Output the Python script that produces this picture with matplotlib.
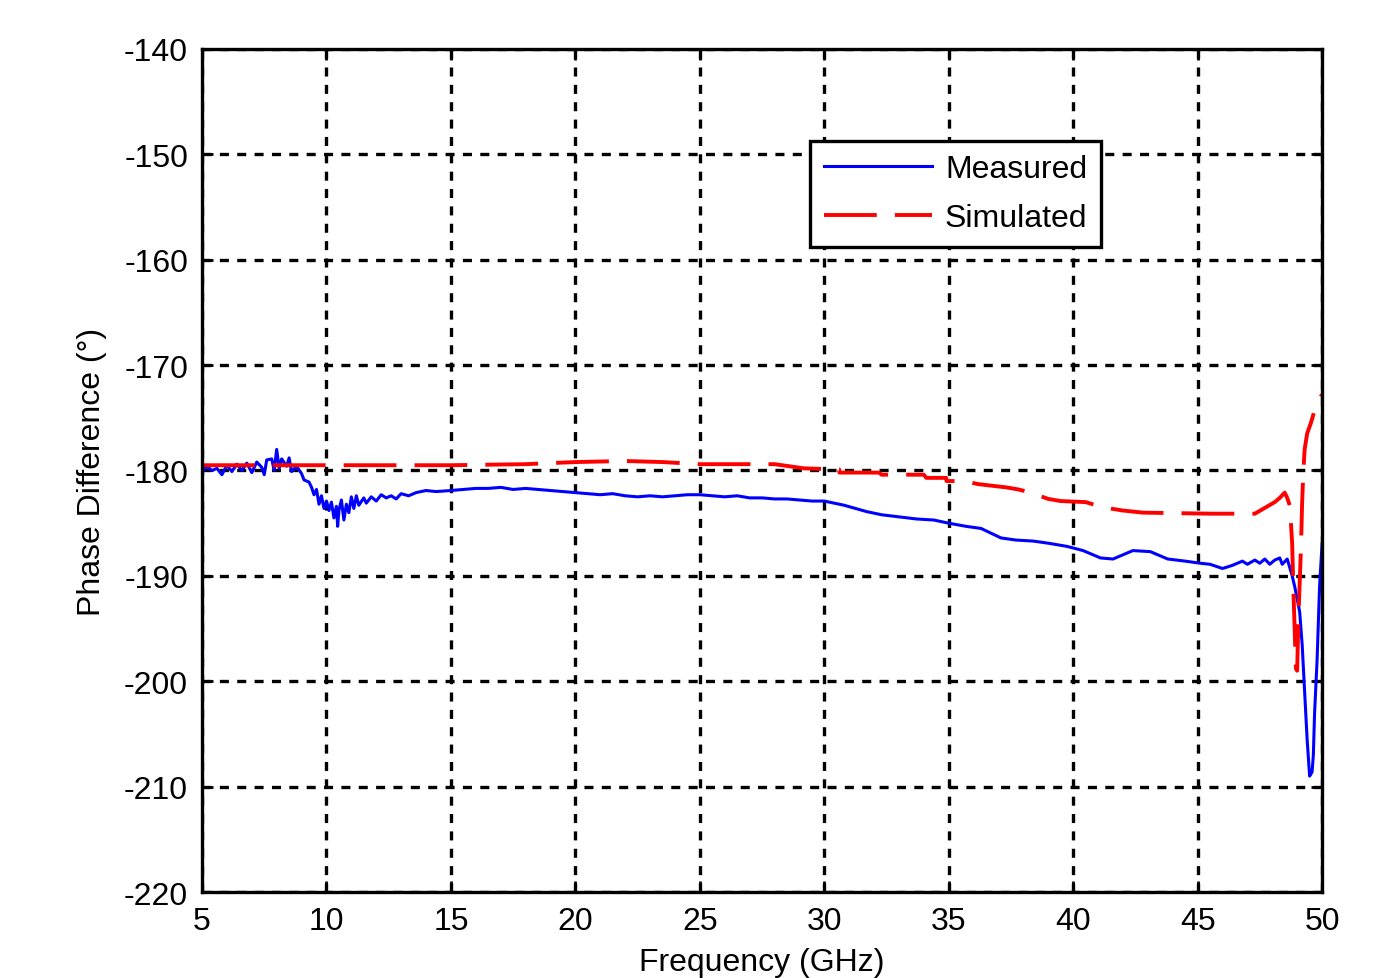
import matplotlib
matplotlib.use("Agg")
import matplotlib.pyplot as plt

plt.rcParams['font.family'] = ['Liberation Sans', 'DejaVu Sans']
plt.rcParams['lines.scale_dashes'] = False
plt.rcParams['axes.unicode_minus'] = False

# measured phase difference
meas_f = [5.0, 5.2, 5.4, 5.6, 5.8, 6.0, 6.2, 6.4, 6.6, 6.8, 7.0, 7.2, 7.4, 7.5, 7.6,
          7.8, 7.9, 8.0, 8.1, 8.2, 8.4, 8.5, 8.6, 8.8, 9.0, 9.1, 9.3, 9.4, 9.5, 9.6,
          9.7, 9.8, 9.9, 10.0, 10.1, 10.2, 10.3, 10.4, 10.45, 10.5, 10.6, 10.7, 10.8,
          10.9, 11.0, 11.1, 11.2, 11.3, 11.5, 11.6, 11.8, 12.0, 12.2, 12.4, 12.6,
          12.8, 13.0, 13.3, 13.6, 14.0, 14.4, 15.0, 15.5, 16.0, 16.5, 17.0, 17.5,
          18.0, 18.5, 19.0, 19.5, 20.0, 20.5, 21.0, 21.5, 22.0, 22.5, 23.0, 23.5,
          24.0, 24.5, 25.0, 25.5, 26.0, 26.5, 27.0, 27.5, 28.0, 28.5, 29.0, 29.5,
          30.0, 30.8, 31.7, 32.3, 33.0, 33.7, 34.4, 35.0, 35.7, 36.3, 37.1, 37.7,
          38.4, 39.0, 39.75, 40.4, 41.1, 41.6, 42.0, 42.4, 43.1, 43.8, 44.5, 45.1,
          45.5, 46.0, 46.4, 46.8, 47.0, 47.3, 47.5, 47.7, 47.9, 48.1, 48.3, 48.4,
          48.6, 48.8, 48.9, 49.0, 49.1, 49.2, 49.3, 49.4, 49.5, 49.6, 49.65, 49.7,
          49.8, 49.9, 50.0]
meas_v = [-180.2, -179.6, -180.0, -179.8, -180.4, -179.5, -180.1, -179.4, -180.0,
          -179.3, -180.2, -179.2, -179.7, -180.4, -179.0, -178.9, -180.0, -178.0,
          -179.8, -178.9, -179.6, -178.8, -180.1, -179.6, -180.3, -180.9, -181.1,
          -181.6, -182.3, -181.8, -183.2, -182.4, -183.6, -182.9, -183.8, -183.0,
          -184.5, -183.4, -185.3, -183.8, -182.8, -184.7, -183.2, -184.0, -182.5,
          -183.6, -182.4, -183.3, -182.6, -183.1, -182.5, -182.9, -182.3, -182.6,
          -182.4, -182.7, -182.2, -182.4, -182.1, -181.9, -182.0, -181.9, -181.8,
          -181.7, -181.7, -181.6, -181.8, -181.7, -181.8, -181.9, -182.0, -182.1,
          -182.2, -182.3, -182.2, -182.4, -182.5, -182.4, -182.5, -182.4, -182.3,
          -182.3, -182.4, -182.5, -182.4, -182.6, -182.6, -182.7, -182.7, -182.8,
          -182.9, -182.9, -183.3, -183.9, -184.2, -184.4, -184.6, -184.7, -185.0,
          -185.3, -185.5, -186.4, -186.6, -186.7, -186.9, -187.2, -187.6, -188.3,
          -188.4, -188.0, -187.6, -187.7, -188.4, -188.6, -188.8, -188.9, -189.3,
          -189.0, -188.6, -188.9, -188.5, -188.8, -188.4, -188.9, -188.5, -188.3,
          -188.9, -188.4, -190.0, -191.0, -192.2, -193.4, -196.5, -201.0, -205.5,
          -209.0, -208.6, -207.0, -203.0, -198.0, -191.0, -187.0]

# simulated phase difference
sim_f = [5.0, 8.0, 10.0, 15.0, 18.0, 20.0, 22.0, 23.5, 25.0, 28.0, 29.2, 30.6,
         30.61, 32.2, 32.3, 34.0, 34.1, 34.9, 34.91, 35.6, 36.2, 37.3, 37.8, 38.3,
         39.0, 39.5, 40.5, 41.2, 42.0, 42.8, 45.6, 47.3, 48.1, 48.3, 48.5, 48.6,
         48.7, 48.75, 48.8, 48.85, 48.95, 49.0, 49.05, 49.15, 49.2, 49.25, 49.3,
         49.4, 49.55, 49.7, 49.85, 50.0]
sim_v = [-179.5, -179.5, -179.5, -179.5, -179.4, -179.2, -179.1, -179.2, -179.4,
         -179.4, -179.8, -179.9, -180.2, -180.2, -180.4, -180.4, -180.7, -180.7,
         -181.0, -181.0, -181.3, -181.6, -181.8, -182.1, -182.7, -182.9, -183.0,
         -183.5, -183.8, -184.0, -184.1, -184.1, -183.0, -182.6, -182.1, -182.6,
         -183.3, -185.0, -187.0, -191.5, -198.8, -199.0, -194.0, -187.5, -183.0,
         -180.0, -178.0, -176.5, -175.5, -174.3, -173.3, -172.8]

xticks = [5, 10, 15, 20, 25, 30, 35, 40, 45, 50]
yticks = [-140, -150, -160, -170, -180, -190, -200, -210, -220]

fig = plt.figure(figsize=(13.77, 9.79), dpi=100)
ax = fig.add_axes([0.1467, 0.0878, 0.8134, 0.8612])

ax.plot(meas_f, meas_v, color='#0000ff', lw=2.2, label='Measured')
ax.plot(sim_f, sim_v, color='#ff0000', lw=2.8, linestyle=(0, (38, 13)),
        label='Simulated')

ax.set_xlim(5, 50)
ax.set_ylim(-220, -140)
ax.set_xticks(xticks)
ax.set_yticks(yticks)
ax.grid(True, color='black', lw=2.4, linestyle=(0, (6.5, 6)))
ax.tick_params(direction='in', length=8, width=2, labelsize=23, pad=10,
               top=True, right=True)
for s in ax.spines.values():
    s.set_linewidth(2.4)

ax.set_xlabel('Frequency (GHz)', fontsize=23, labelpad=8)
ax.set_ylabel('Phase Difference (°)', fontsize=23, labelpad=12)

leg = ax.legend(loc='upper left', bbox_to_anchor=(0.543, 0.891), fontsize=23,
                frameon=True, fancybox=False, framealpha=1, handlelength=3.4,
                handletextpad=0.4, borderpad=0.42, labelspacing=0.6,
                borderaxespad=0)
leg.get_frame().set_edgecolor('black')
leg.get_frame().set_linewidth(2.4)

fig.savefig('out.png', dpi=100)
